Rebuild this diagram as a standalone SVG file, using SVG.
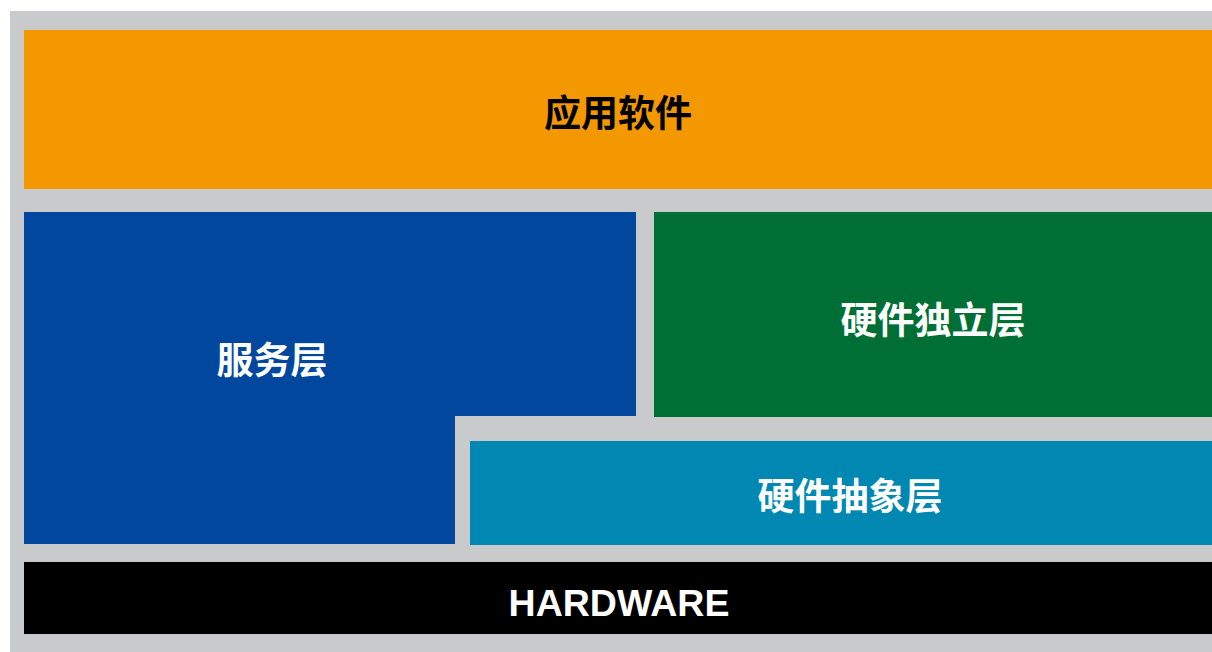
<svg xmlns="http://www.w3.org/2000/svg" width="1212" height="652" viewBox="0 0 1212 652">
<style>
.cjk{font-family:"Noto Sans CJK SC","Liberation Sans",sans-serif;font-weight:bold;font-size:37px;text-anchor:middle;dominant-baseline:central}
.lat{font-family:"Liberation Sans",Arial,sans-serif;font-weight:bold;font-size:37.5px;text-anchor:middle;dominant-baseline:central}
</style>
<rect width="1212" height="652" fill="#ffffff"/>
<rect x="10" y="11" width="1202" height="641" fill="#C9CACB"/>
<g id="app">
<rect x="24" y="30" width="1188" height="159" fill="#F39800"/>
<text class="cjk" x="618" y="111" fill="#000000">应用软件</text>
</g>
<g id="service">
<path d="M24 212H636V416H455V544H24Z" fill="#00479D"/>
<text class="cjk" x="272" y="358" fill="#ffffff">服务层</text>
</g>
<g id="hw-independent">
<rect x="654" y="212" width="558" height="205" fill="#006F36"/>
<text class="cjk" x="933" y="318" fill="#ffffff">硬件独立层</text>
</g>
<g id="hal">
<rect x="470" y="441" width="742" height="104" fill="#0088B2"/>
<text class="cjk" x="850" y="494" fill="#ffffff">硬件抽象层</text>
</g>
<g id="hardware">
<rect x="24" y="562" width="1188" height="72" fill="#000000"/>
<text class="lat" x="619" y="603" fill="#ffffff">HARDWARE</text>
</g>
<g id="connectors"/>
</svg>
